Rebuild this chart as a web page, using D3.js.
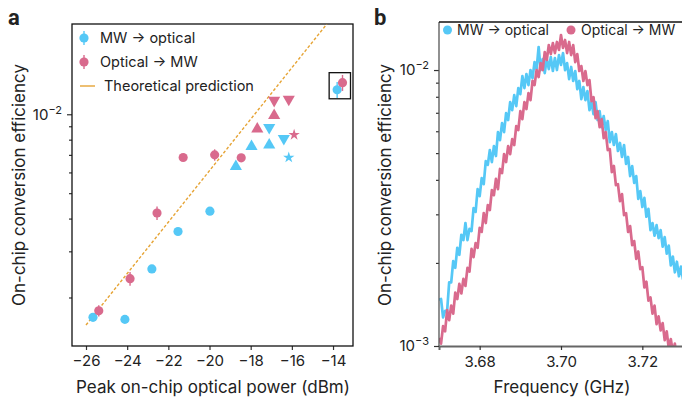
<!DOCTYPE html>
<html>
<head>
<meta charset="utf-8">
<script src="https://cdn.jsdelivr.net/npm/d3@7"></script>
<style>
  body { margin: 0; background: #fff; }
  text { font-family: Inter, "Open Sans", sans-serif; fill: #222; }
</style>
</head>
<body>
<svg id="chart" width="682" height="402"></svg>
<script>
// ---- panel a data (peak on-chip optical power in dBm, efficiency, relative error)
var mwCircP   = [-25.66, -24.11, -22.80, -21.53, -19.98];
var mwCircEff = [0.00168, 0.00165, 0.00257, 0.00357, 0.00427];
var mwCircErr = [0.03, 0.03, 0.02, 0.02, 0.02];

var omCircP   = [-25.38, -23.86, -22.55, -21.28, -19.75, -18.46];
var omCircEff = [0.00178, 0.00236, 0.00420, 0.00684, 0.00700, 0.00682];
var omCircErr = [0.05, 0.06, 0.06, 0.03, 0.05, 0.03];

var mwUpP   = [-18.72, -17.96, -17.10];
var mwUpEff = [0.00632, 0.00754, 0.00763];
var mwDownP   = [-17.10, -16.39];
var mwDownEff = [0.00890, 0.00808];
var mwStarP   = [-16.15];
var mwStarEff = [0.00684];

var omUpP   = [-17.68, -16.86];
var omUpEff = [0.00878, 0.00990];
var omDownP   = [-16.86, -16.15];
var omDownEff = [0.01130, 0.01140];
var omStarP   = [-15.89];
var omStarEff = [0.00835];

// highlighted (boxed) measurement
var boxMwP = [-13.80], boxMwEff = [0.01240], boxMwErr = [0.07];
var boxOmP = [-13.54], boxOmEff = [0.01320], boxOmErr = [0.07];

// theoretical prediction (end points)
var theoryP   = [-26.0, -14.3];
var theoryEff = [0.00157, 0.0221];

var xTicksA = [-26, -24, -22, -20, -18, -16, -14];
var yTicksA = [0.002, 0.003, 0.004, 0.005, 0.006, 0.007, 0.008, 0.009, 0.01];

// ---- panel b data (efficiency spectra, in units of 1e-3, 0.5 MHz sampling)
var SPEC_UNIT = 1e-3;
var freqStart = 3.670, freqStep = 0.0005;
var mwSpec = [
  1.47, 1.48, 1.27, 1.34, 1.34, 1.70, 1.70, 2.03, 1.92, 2.27,
  2.14, 2.53, 2.42, 2.79, 2.42, 2.66, 2.61, 3.16, 3.06, 3.70,
  3.49, 4.06, 3.86, 4.68, 4.53, 5.13, 4.64, 5.30, 4.88, 5.96,
  5.57, 6.42, 5.96, 6.98, 6.59, 7.65, 7.16, 8.11, 7.40, 8.60,
  8.18, 9.51, 8.60, 9.67, 8.82, 10.00, 9.35, 10.69, 10.08, 12.12,
  10.00, 10.96, 9.75, 10.96, 10.08, 11.14, 9.92, 11.05, 10.00, 11.33,
  10.43, 11.52, 10.00, 10.60, 9.27, 10.26, 9.13, 9.92, 8.53, 9.13,
  7.85, 8.68, 7.78, 8.39, 7.16, 7.65, 6.92, 7.65, 6.59, 7.10,
  6.21, 6.81, 6.06, 6.53, 5.48, 5.96, 5.35, 5.86, 5.09, 5.44,
  4.84, 5.35, 4.57, 4.84, 4.13, 4.49, 3.90, 4.13, 3.41, 3.64,
  3.19, 3.44, 2.94, 3.14, 2.63, 2.79, 2.51, 2.74, 2.46, 2.63,
  2.29, 2.48, 2.16, 2.31, 1.96, 2.11, 1.85, 2.02, 1.79, 1.94,
  1.74
];
var omSpec = [
  1.07, 1.02, 1.18, 1.13, 1.35, 1.24, 1.40, 1.31, 1.56, 1.48,
  1.68, 1.55, 1.75, 1.65, 1.92, 1.86, 2.25, 2.10, 2.36, 2.27,
  2.68, 2.59, 3.03, 2.79, 3.24, 3.11, 3.67, 3.52, 4.03, 3.70,
  4.38, 4.23, 4.96, 4.64, 5.30, 4.96, 5.62, 5.35, 6.27, 6.06,
  7.10, 6.64, 7.65, 7.22, 8.25, 7.78, 9.13, 8.82, 10.00, 9.43,
  10.60, 10.00, 11.62, 10.87, 12.32, 11.43, 12.53, 11.52, 12.64, 11.82,
  13.39, 12.02, 12.85, 11.52, 12.64, 11.33, 12.32, 10.69, 11.43, 9.92,
  10.34, 9.13, 9.92, 8.82, 9.20, 7.72, 7.98, 6.70, 7.10, 6.21,
  6.64, 5.67, 5.96, 5.13, 5.17, 4.27, 4.49, 3.83, 3.86, 3.35,
  3.55, 2.98, 3.03, 2.59, 2.72, 2.32, 2.40, 2.07, 2.20, 1.90,
  1.93, 1.63, 1.71, 1.46, 1.50, 1.31, 1.40, 1.20, 1.28, 1.14,
  1.21, 1.05, 1.13, 0.98, 1.06, 0.95, 1.02, 0.88, 0.92, 0.78,
  0.78
];
var xTicksB = [3.68, 3.70, 3.72];
var yTicksB = [0.001, 0.002, 0.003, 0.004, 0.005, 0.006, 0.007, 0.008, 0.009, 0.01];

var BLUE = "#55c8f6", PINK = "#d96a8d", ORANGE = "#e6a435", AXIS = "#333";

var svg = d3.select("#chart");

function superTen(sel, exp) {
    sel.text("10");
    sel.append("tspan").attr("dy", "-0.55em").style("font-size", "11px").text("\u2212" + exp);
}

function styleLogAxis(g, major) {
    g.select(".domain").remove();
    g.selectAll(".tick line").attr("stroke", AXIS).attr("stroke-width", 1.2)
      .attr("x2", function(d) { return major.indexOf(d) >= 0 ? -5 : -3; });
    g.selectAll(".tick text").each(function(d) {
        var t = d3.select(this);
        if (d === 0.01) superTen(t, 2);
        else if (d === 0.001) superTen(t, 3);
        else t.text("");
    });
}

// ================= panel a =================
var A = { left: 72, right: 353, top: 24, bottom: 346 };
var xA = d3.scaleLinear().domain([-26.68, -13.03]).range([A.left, A.right]);
var yA = d3.scaleLog().domain([0.001306, 0.0221]).range([A.bottom, A.top]);

svg.append("clipPath").attr("id", "clipA").append("rect")
  .attr("x", A.left).attr("y", A.top).attr("width", A.right - A.left).attr("height", A.bottom - A.top);

svg.append("g")
  .attr("transform", "translate(0," + A.bottom + ")")
  .style("font-size", "15px")
  .call(d3.axisBottom(xA).tickValues(xTicksA).tickSize(4).tickPadding(5)
    .tickFormat(function(d) { return "\u2212" + Math.abs(d); }))
  .call(function(g) {
      g.select(".domain").remove();
      g.selectAll(".tick line").attr("stroke", AXIS).attr("stroke-width", 1.2);
      g.selectAll(".tick text").attr("fill", "#222");
  });

svg.append("g")
  .attr("transform", "translate(" + A.left + ",0)")
  .style("font-size", "15px")
  .call(d3.axisLeft(yA).tickValues(yTicksA).tickSize(4).tickPadding(6))
  .call(function(g) { styleLogAxis(g, [0.01]); g.selectAll(".tick text").attr("fill", "#222"); });

svg.append("rect")
  .attr("x", A.left).attr("y", A.top)
  .attr("width", A.right - A.left).attr("height", A.bottom - A.top)
  .attr("fill", "none").attr("stroke", "#111").attr("stroke-width", 1.3);

// theory line
svg.append("path")
  .datum(d3.zip(theoryP, theoryEff))
  .attr("clip-path", "url(#clipA)")
  .attr("fill", "none").attr("stroke", ORANGE).attr("stroke-width", 1.4)
  .attr("stroke-dasharray", "3,2")
  .attr("d", d3.line().x(function(d) { return xA(d[0]); }).y(function(d) { return yA(d[1]); }));

function drawPoints(P, E, Err, color, type, size) {
    var g = svg.append("g");
    var data = d3.zip(P, E, Err || P.map(function() { return 0; }));
    g.selectAll("line").data(data.filter(function(d) { return d[2] > 0; }))
      .enter().append("line")
      .attr("stroke", color).attr("stroke-width", 1.4)
      .attr("x1", function(d) { return xA(d[0]); })
      .attr("x2", function(d) { return xA(d[0]); })
      .attr("y1", function(d) { return yA(d[1] * (1 - d[2])); })
      .attr("y2", function(d) { return yA(d[1] * (1 + d[2])); });
    var sym = d3.symbol().type(type).size(size);
    g.selectAll("path").data(data).enter().append("path")
      .attr("d", sym)
      .attr("fill", color)
      .attr("transform", function(d) { return "translate(" + xA(d[0]) + "," + yA(d[1]) + ")"; });
    return g;
}

function drawTri(P, E, color, down) {
    var sym = d3.symbol().type(d3.symbolTriangle).size(64);
    svg.append("g").selectAll("path").data(d3.zip(P, E)).enter().append("path")
      .attr("d", sym).attr("fill", color)
      .attr("transform", function(d) {
          return "translate(" + xA(d[0]) + "," + yA(d[1]) + ")" + (down ? " rotate(180)" : "");
      });
}

drawPoints(mwCircP, mwCircEff, mwCircErr, BLUE, d3.symbolCircle, 66);
drawPoints(omCircP, omCircEff, omCircErr, PINK, d3.symbolCircle, 66);
drawTri(mwUpP, mwUpEff, BLUE, false);
drawTri(mwDownP, mwDownEff, BLUE, true);
drawTri(omUpP, omUpEff, PINK, false);
drawTri(omDownP, omDownEff, PINK, true);
drawPoints(mwStarP, mwStarEff, null, BLUE, d3.symbolStar, 40);
drawPoints(omStarP, omStarEff, null, PINK, d3.symbolStar, 40);
drawPoints(boxMwP, boxMwEff, boxMwErr, BLUE, d3.symbolCircle, 66);
drawPoints(boxOmP, boxOmEff, boxOmErr, PINK, d3.symbolCircle, 66);

// highlight box around the last measurement
var bx0 = xA(boxMwP[0]) - 8, bx1 = xA(boxOmP[0]) + 8;
var by0 = yA(boxOmEff[0]) - 10, by1 = yA(boxMwEff[0]) + 9;
svg.append("rect").attr("x", bx0).attr("y", by0)
  .attr("width", bx1 - bx0).attr("height", by1 - by0)
  .attr("fill", "none").attr("stroke", "#111").attr("stroke-width", 1.3);

// legend a
var legA = svg.append("g").style("font-size", "14.5px");
[[BLUE, "MW \u2192 optical", 38], [PINK, "Optical \u2192 MW", 62]].forEach(function(l) {
    legA.append("line").attr("x1", 84).attr("x2", 84).attr("y1", l[2] - 7).attr("y2", l[2] + 7)
      .attr("stroke", l[0]).attr("stroke-width", 1.4);
    legA.append("circle").attr("cx", 84).attr("cy", l[2]).attr("r", 4.6).attr("fill", l[0]);
    legA.append("text").attr("x", 100).attr("y", l[2] + 5).text(l[1]);
});
legA.append("line").attr("x1", 80).attr("x2", 95).attr("y1", 86).attr("y2", 86)
  .attr("stroke", ORANGE).attr("stroke-width", 1.4);
legA.append("text").attr("x", 104).attr("y", 91).text("Theoretical prediction");

svg.append("text").attr("x", 8).attr("y", 25).style("font-size", "22px").style("font-weight", "bold")
  .style("font-family", "Roboto, Inter, sans-serif").text("a");
svg.append("text").attr("transform", "translate(25,185) rotate(-90)")
  .attr("text-anchor", "middle").style("font-size", "17px").text("On-chip conversion efficiency");
svg.append("text").attr("x", 213).attr("y", 393)
  .attr("text-anchor", "middle").style("font-size", "17px").text("Peak on-chip optical power (dBm)");

// ================= panel b =================
var B = { left: 439, right: 683, top: 22, bottom: 346 };
var xB = d3.scaleLinear().domain([3.670, 3.730]).range([B.left, B.right]);
var yB = d3.scaleLog().domain([0.001, 0.01493]).range([B.bottom, B.top]);

svg.append("clipPath").attr("id", "clipB").append("rect")
  .attr("x", B.left).attr("y", B.top).attr("width", B.right - B.left).attr("height", B.bottom - B.top);

var line = d3.line()
  .x(function(d, i) { return xB(freqStart + i * freqStep); })
  .y(function(d) { return yB(d * SPEC_UNIT); });

svg.append("path").datum(mwSpec).attr("clip-path", "url(#clipB)")
  .attr("fill", "none").attr("stroke", BLUE).attr("stroke-width", 2.7)
  .attr("stroke-linejoin", "round").attr("d", line);
svg.append("path").datum(omSpec).attr("clip-path", "url(#clipB)")
  .attr("fill", "none").attr("stroke", PINK).attr("stroke-width", 2.7)
  .attr("stroke-linejoin", "round").attr("d", line);

svg.append("g")
  .attr("transform", "translate(0," + B.bottom + ")")
  .style("font-size", "15px")
  .call(d3.axisBottom(xB).tickValues(xTicksB).tickSize(4).tickPadding(6).tickFormat(d3.format(".2f")))
  .call(function(g) {
      g.select(".domain").attr("stroke", "#666").attr("stroke-width", 2);
      g.selectAll(".tick line").attr("stroke", AXIS).attr("stroke-width", 1.2);
      g.selectAll(".tick text").attr("fill", "#222");
  });

svg.append("g")
  .attr("transform", "translate(" + B.left + ",0)")
  .style("font-size", "15px")
  .call(d3.axisLeft(yB).tickValues(yTicksB).tickSize(4).tickPadding(6))
  .call(function(g) { styleLogAxis(g, [0.01, 0.001]); g.selectAll(".tick text").attr("fill", "#222"); });

svg.append("line").attr("x1", B.left).attr("x2", B.left).attr("y1", B.top).attr("y2", B.bottom)
  .attr("stroke", "#555").attr("stroke-width", 1.3);
svg.append("line").attr("x1", B.left).attr("x2", B.right).attr("y1", B.top).attr("y2", B.top)
  .attr("stroke", "#111").attr("stroke-width", 1.3);

var legB = svg.append("g").style("font-size", "14px");
[[BLUE, "MW \u2192 optical", 447.5, 457], [PINK, "Optical \u2192 MW", 571, 581]].forEach(function(l) {
    legB.append("circle").attr("cx", l[2]).attr("cy", 30).attr("r", 4.5).attr("fill", l[0]);
    legB.append("text").attr("x", l[3]).attr("y", 35).text(l[1]);
});

svg.append("text").attr("x", 374).attr("y", 25).style("font-size", "22px").style("font-weight", "bold")
  .style("font-family", "Roboto, Inter, sans-serif").text("b");
svg.append("text").attr("transform", "translate(391,185) rotate(-90)")
  .attr("text-anchor", "middle").style("font-size", "17px").text("On-chip conversion efficiency");
svg.append("text").attr("x", 562).attr("y", 393)
  .attr("text-anchor", "middle").style("font-size", "17px").text("Frequency (GHz)");
</script>
</body>
</html>
